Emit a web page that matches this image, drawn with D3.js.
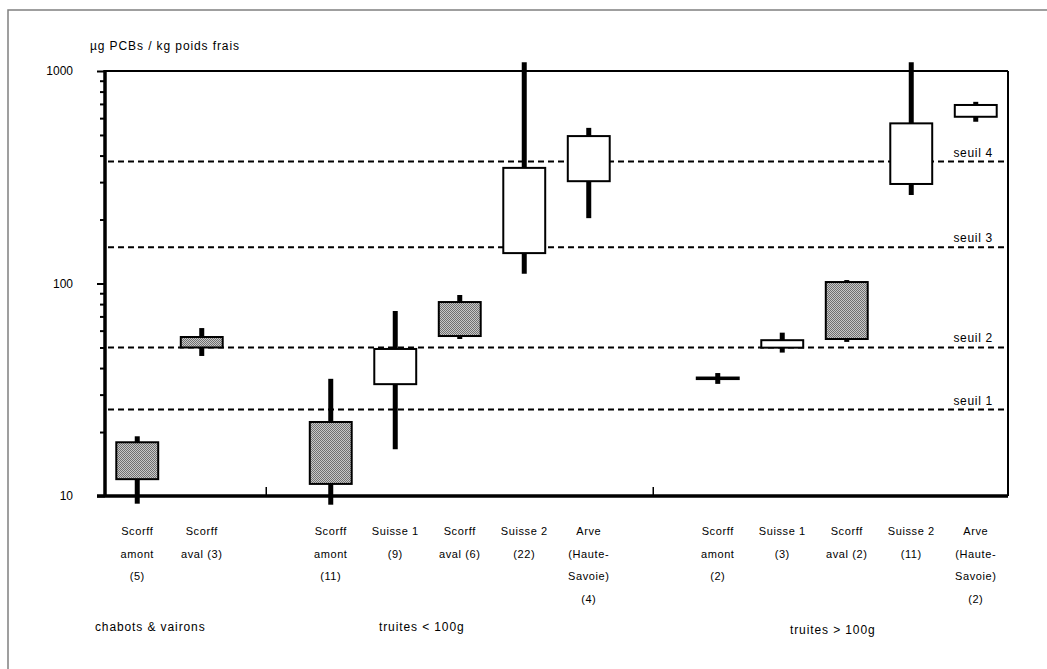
<!DOCTYPE html>
<html lang="fr">
  <head>
    <meta charset="UTF-8" />
    <title>PCBs poissons</title>
    <script src="https://d3js.org/d3.v7.min.js"></script>
    <style>
      body { margin: 0; background: #fff; }
      svg { display: block; font-family: 'Liberation Sans', Arial, sans-serif; }
    </style>
  </head>
  <body>
    <svg width="1047" height="669"></svg>
    <script>
      // 14 slots, the empty ones separate the three groups
      const categories = ['c0', 'c1', 'gap1', 'c3', 'c4', 'c5', 'c6', 'c7', 'gap2', 'c9', 'c10', 'c11', 'c12', 'c13'];
      const catLabels = [
        ['Scorff', 'amont', '(5)'],
        ['Scorff', 'aval (3)'],
        [],
        ['Scorff', 'amont', '(11)'],
        ['Suisse 1', '(9)'],
        ['Scorff', 'aval (6)'],
        ['Suisse 2', '(22)'],
        ['Arve', '(Haute-', 'Savoie)', '(4)'],
        [],
        ['Scorff', 'amont', '(2)'],
        ['Suisse 1', '(3)'],
        ['Scorff', 'aval (2)'],
        ['Suisse 2', '(11)'],
        ['Arve', '(Haute-', 'Savoie)', '(2)'],
      ];
      const mins = [9.2, 45.6, null, 9.1, 16.6, 54.8, 111, 203, null, 33.7, 47.3, 53.1, 261, 577];
      const q1s = [12.0, 50, null, 11.4, 33.6, 56.6, 139, 303, null, 35.5, 49.9, 54.8, 294, 609];
      const q3s = [17.9, 56, null, 22.3, 49.2, 81.8, 350, 494, null, 36.1, 54.1, 101.6, 567, 692];
      const maxs = [19.1, 61.7, null, 35.6, 74.3, 88.3, 1100, 540, null, 37.9, 58.7, 103.8, 1100, 716];
      const shaded = [true, true, false, true, false, true, false, false, false, true, false, true, false, false];

      const seuils = [25.5, 50, 148, 375];
      const seuilLabels = ['seuil 1', 'seuil 2', 'seuil 3', 'seuil 4'];

      const groupNames = ['chabots & vairons', 'truites < 100g', 'truites > 100g'];
      const groupAnchor = ['c0', 'c5', 'c11'];
      const groupShift = [13, -38, -14];

      const yTickValues = [10, 100, 1000];

      const svg = d3.select('svg');
      const mLeft = 105, mRight = 1008, mTop = 71, mBottom = 496;

      // outer frame
      svg.append('rect')
        .attr('x', 8).attr('y', 10)
        .attr('width', 1200).attr('height', 800)
        .attr('fill', 'none').attr('stroke', '#808080').attr('stroke-width', 1.5);

      const defs = svg.append('defs');
      const pat = defs.append('pattern')
        .attr('id', 'dots').attr('width', 2).attr('height', 2)
        .attr('patternUnits', 'userSpaceOnUse');
      pat.append('rect').attr('width', 2).attr('height', 2).attr('fill', '#c8c8c8');
      pat.append('rect').attr('width', 1).attr('height', 1).attr('fill', '#707070');
      pat.append('rect').attr('x', 1).attr('y', 1).attr('width', 1).attr('height', 1).attr('fill', '#707070');

      const x = d3.scaleBand().domain(categories).range([mLeft, mRight]);
      const y = d3.scaleLog().domain([10, 1000]).range([mBottom, mTop]);

      // plot frame top/right
      svg.append('line').attr('x1', mLeft).attr('x2', mRight).attr('y1', mTop).attr('y2', mTop)
        .attr('stroke', '#000').attr('stroke-width', 2);
      svg.append('line').attr('x1', mRight).attr('x2', mRight).attr('y1', mTop).attr('y2', mBottom)
        .attr('stroke', '#000').attr('stroke-width', 2);

      // thresholds
      svg.append('g').selectAll('line').data(seuils).join('line')
        .attr('x1', mLeft + 3).attr('x2', mRight)
        .attr('y1', (d) => y(d)).attr('y2', (d) => y(d))
        .attr('stroke', '#000').attr('stroke-width', 2)
        .attr('stroke-dasharray', '6,4');
      svg.append('g').selectAll('text').data(seuils).join('text')
        .attr('x', mRight - 15).attr('y', (d) => y(d) - 5)
        .attr('text-anchor', 'end').attr('font-size', 12).attr('letter-spacing', 0.7)
        .text((d, i) => seuilLabels[i]);

      // y axis with minor ticks
      const allTicks = [];
      [10, 100].forEach((dec) => { for (let k = 1; k < 10; k++) allTicks.push(dec * k); });
      allTicks.push(1000);
      const yAxis = svg.append('g')
        .attr('transform', `translate(${mLeft},0)`)
        .call(d3.axisLeft(y).tickValues(allTicks).tickSize(0)
          .tickFormat((d) => (yTickValues.includes(d) ? d : '')).tickPadding(32));
      yAxis.select('.domain').remove();
      yAxis.selectAll('.tick line')
        .attr('x2', (d) => (yTickValues.includes(d) ? -8 : -5))
        .attr('stroke-width', 2);
      yAxis.selectAll('.tick text').attr('font-size', 12).attr('font-family', "'Liberation Sans', Arial, sans-serif");
      svg.append('line').attr('x1', mLeft).attr('x2', mLeft).attr('y1', mTop - 1).attr('y2', mBottom + 1)
        .attr('stroke', '#000').attr('stroke-width', 3.5);

      // axis title
      svg.append('text').attr('x', 90).attr('y', 50).attr('font-size', 12).attr('letter-spacing', 0.9)
        .text('µg PCBs / kg poids frais');

      const boxes = categories.map((c, i) => ({ c, i })).filter((d) => mins[d.i] !== null);
      const bw = x.bandwidth() * 0.65;
      const cx = (c) => x(c) + x.bandwidth() / 2;

      // whiskers
      svg.append('g').selectAll('line').data(boxes).join('line')
        .attr('x1', (d) => cx(d.c)).attr('x2', (d) => cx(d.c))
        .attr('y1', (d) => y(maxs[d.i])).attr('y2', (d) => y(mins[d.i]))
        .attr('stroke', '#000').attr('stroke-width', 5);

      // boxes
      svg.append('g').selectAll('rect').data(boxes).join('rect')
        .attr('x', (d) => cx(d.c) - bw / 2)
        .attr('width', bw)
        .attr('y', (d) => y(q3s[d.i]))
        .attr('height', (d) => Math.max(0.5, y(q1s[d.i]) - y(q3s[d.i])))
        .attr('fill', (d) => (shaded[d.i] ? 'url(#dots)' : '#fff'))
        .attr('stroke', '#000').attr('stroke-width', 2);

      // x axis
      svg.append('line').attr('x1', mLeft - 8).attr('x2', mRight).attr('y1', mBottom).attr('y2', mBottom)
        .attr('stroke', '#000').attr('stroke-width', 3.5);
      svg.append('g').selectAll('line').data(['gap1', 'gap2']).join('line')
        .attr('x1', (d) => cx(d)).attr('x2', (d) => cx(d))
        .attr('y1', mBottom).attr('y2', mBottom - 9)
        .attr('stroke', '#000').attr('stroke-width', 1.5);

      // category labels
      const lab = svg.append('g').selectAll('text').data(categories).join('text')
        .attr('text-anchor', 'middle').attr('font-size', 11).attr('letter-spacing', 0.6);
      lab.each(function (c, i) {
        d3.select(this).selectAll('tspan').data(catLabels[i]).join('tspan')
          .attr('x', cx(c)).attr('y', (t, j) => 535 + j * 22.5).text((t) => t);
      });

      svg.append('g').selectAll('text').data(groupNames).join('text')
        .attr('x', (d, i) => cx(groupAnchor[i]) + groupShift[i])
        .attr('y', (d, i) => 631 + (i === 2 ? 3 : 0))
        .attr('text-anchor', 'middle').attr('font-size', 12).attr('letter-spacing', 0.9)
        .text((d) => d);
    </script>
  </body>
</html>
